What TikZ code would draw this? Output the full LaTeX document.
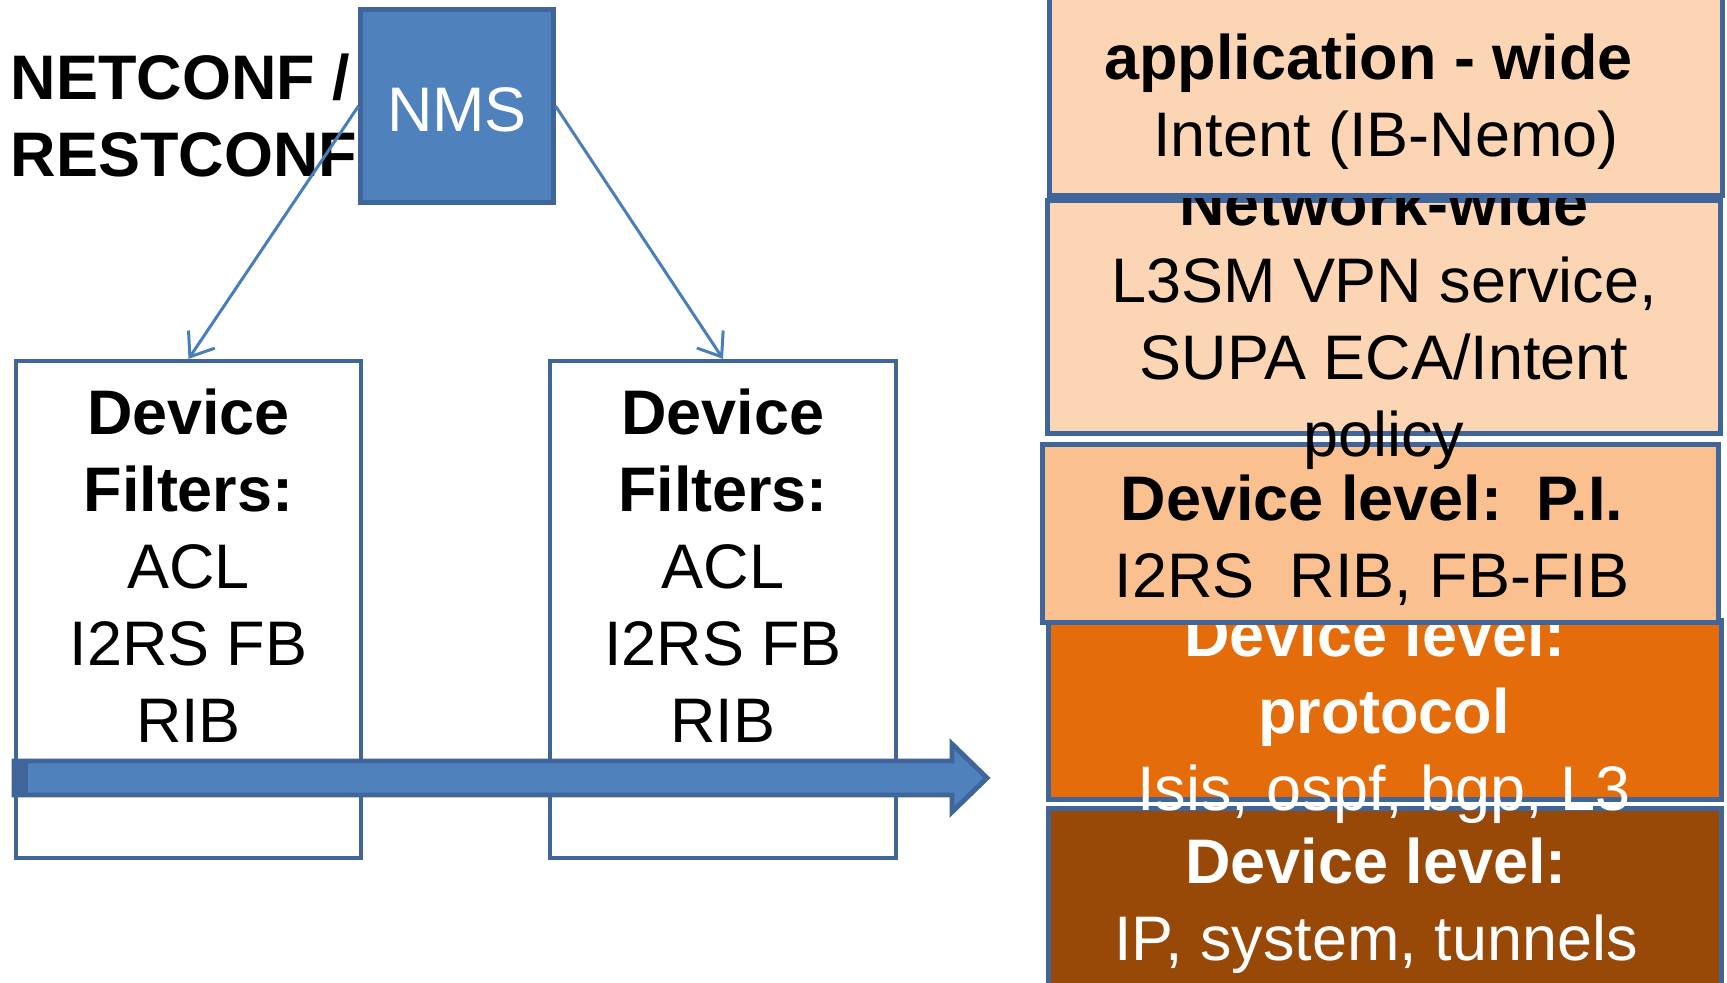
\documentclass[tikz,border=0pt]{standalone}
\usepackage{fontspec}
\setmainfont{Liberation Sans}
\usetikzlibrary{arrows.meta}
\definecolor{nmsblue}{HTML}{4F81BD}
\definecolor{edgeblue}{HTML}{40659A}
\definecolor{linkblue}{HTML}{4A7EBB}
\definecolor{peach}{HTML}{FCD5B5}
\definecolor{lightorange}{HTML}{FAC090}
\definecolor{deeporange}{HTML}{E46C0A}
\definecolor{rust}{HTML}{984807}
\tikzset{
  layer/.style={draw=edgeblue,line width=1.4pt,minimum width=6.72cm,inner sep=0pt},
  filterbox/.style={draw=edgeblue,line width=1.1pt,fill=white,minimum width=3.45cm,minimum height=4.97cm,inner sep=0pt},
  txt/.style={align=center,anchor=base,inner sep=0pt,font=\fontsize{17.9pt}{21.9pt}\selectfont},
  link/.style={linkblue,line width=0.85pt,-{Straight Barb[length=6pt,width=9pt]}},
}
\begin{document}
\begin{tikzpicture}[x=0.01cm,y=-0.01cm]
  \useasboundingbox (0,0) rectangle (1727,983);
  % management side
  \node[txt,align=left,anchor=base west] (proto) at (10,177) {\textbf{NETCONF /}\\\textbf{RESTCONF}};
  \node[draw=edgeblue,line width=1.4pt,fill=nmsblue,minimum size=1.92cm,inner sep=0pt] (nms) at (457,106) {};
  \node[txt,white] (nmstxt) at (457,132) {NMS};
  \node[filterbox] (filtA) at (188.5,609.5) {};
  \node[filterbox] (filtB) at (723,609.5) {};
  \node[txt] (filtAtxt) at (188.5,743) {\textbf{Device}\\\textbf{Filters:}\\ACL\\I2RS FB\\RIB};
  \node[txt] (filtBtxt) at (723,743) {\textbf{Device}\\\textbf{Filters:}\\ACL\\I2RS FB\\RIB};
  \draw[link] (nms.west) -- (filtA.north);
  \draw[link] (nms.east) -- (filtB.north);
  % block arrow
  \filldraw[fill=nmsblue,draw=edgeblue,line width=1.4pt] (14,761) -- (952,761) -- (952,744) -- (987,778) -- (952,812) -- (952,795) -- (14,795) -- cycle;
  \fill[edgeblue] (14,761) rectangle (28,795);
  % layer stack, drawn bottom up
  \node[layer,fill=rust,minimum height=1.86cm] (ipbox) at (1385,902) {};
  \node[txt,white] (iptxt) at (1376,961) {\textbf{Device level:}\\IP, system, tunnels};
  \node[layer,fill=deeporange,minimum height=1.78cm] (protobox) at (1385,710) {};
  \node[txt,white] (prototxt) at (1384,811) {\textbf{Device level:}\hspace*{5pt}\\\textbf{protocol}\\Isis, ospf, bgp, L3};
  \node[layer,fill=lightorange,minimum width=6.75cm,minimum height=1.77cm] (pibox) at (1380.5,533.5) {};
  \node[txt] (pitxt) at (1372,598) {\textbf{Device level:~~P.I.}\\I2RS~~RIB, FB-FIB};
  \node[layer,fill=peach,minimum height=2.32cm] (netbox) at (1384,317) {};
  \node[txt] (nettxt) at (1384,457) {\textbf{Network-wide}\\L3SM VPN service,\\SUPA ECA/Intent\\policy};
  \node[layer,fill=peach,minimum height=2cm] (appbox) at (1386,95) {};
  \node[txt] (apptxt) at (1386,157) {\textbf{application - wide}\hspace*{10pt}\\Intent (IB-Nemo)};
\end{tikzpicture}
\end{document}
